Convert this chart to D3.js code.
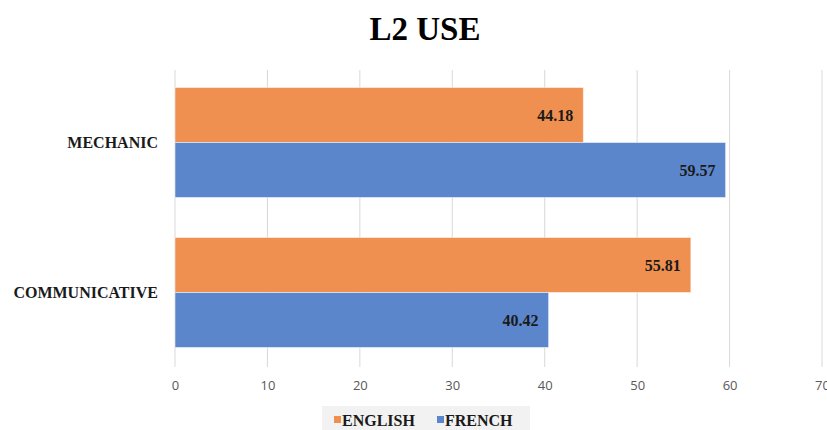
<!DOCTYPE html>
<html>
<head>
<meta charset="utf-8">
<script src="https://cdn.jsdelivr.net/npm/d3@7"></script>
<style>
  body { margin: 0; background: #fff; }
</style>
</head>
<body>
<div id="chart"></div>
<script>
var categories = ["MECHANIC", "COMMUNICATIVE"];
var seriesNames = ["ENGLISH", "FRENCH"];
var english = [44.18, 55.81];
var french = [59.57, 40.42];
var xTicks = [0, 10, 20, 30, 40, 50, 60, 70];

var colors = { ENGLISH: "#ef8f50", FRENCH: "#5c86cc" };

var width = 827, height = 430;
var svg = d3.select("#chart").append("svg")
  .attr("width", width)
  .attr("height", height);

var rows = categories.map(function(c, i) {
  return { cat: c, values: [
    { key: "ENGLISH", v: english[i] },
    { key: "FRENCH", v: french[i] }
  ]};
});

var x = d3.scaleLinear().domain([0, 70]).range([175, 822]);
var y = d3.scaleBand().domain(categories).range([70, 365])
  .paddingInner(0.2667).paddingOuter(0.1167);
var y1 = d3.scaleBand().domain(seriesNames).range([0, y.bandwidth()]);

// title
svg.append("text")
  .attr("x", 425).attr("y", 40)
  .attr("text-anchor", "middle")
  .style("font-family", "'Liberation Serif', 'Times New Roman', serif")
  .style("font-weight", "bold")
  .style("font-size", "33px")
  .text("L2 USE");

// gridlines
svg.append("g").selectAll("line")
  .data(xTicks)
  .enter().append("line")
  .attr("x1", function(d) { return x(d); })
  .attr("x2", function(d) { return x(d); })
  .attr("y1", 70).attr("y2", 367)
  .attr("stroke", "#d9d9d9")
  .attr("stroke-width", 1);

// bars
var groups = svg.append("g").selectAll("g")
  .data(rows)
  .enter().append("g")
  .attr("transform", function(d) { return "translate(0," + y(d.cat) + ")"; });

groups.selectAll("rect")
  .data(function(d) { return d.values; })
  .enter().append("rect")
  .attr("x", x(0))
  .attr("y", function(d) { return y1(d.key); })
  .attr("width", function(d) { return x(d.v) - x(0); })
  .attr("height", y1.bandwidth())
  .attr("fill", function(d) { return colors[d.key]; })
  .attr("stroke", "#ffffff")
  .attr("stroke-opacity", 0.5)
  .attr("stroke-width", 1);

groups.selectAll("text")
  .data(function(d) { return d.values; })
  .enter().append("text")
  .attr("x", function(d) { return x(d.v) - 10; })
  .attr("y", function(d) { return y1(d.key) + y1.bandwidth() / 2; })
  .attr("dy", "0.35em")
  .attr("text-anchor", "end")
  .style("font-family", "'Liberation Serif', 'Times New Roman', serif")
  .style("font-weight", "bold")
  .style("font-size", "16px")
  .style("fill", "#1a1a1a")
  .text(function(d) { return d3.format(".2f")(d.v); });

// category labels
svg.append("g").selectAll("text")
  .data(categories)
  .enter().append("text")
  .attr("x", 158)
  .attr("y", function(d) { return y(d) + y.bandwidth() / 2; })
  .attr("dy", "0.35em")
  .attr("text-anchor", "end")
  .style("font-family", "'Liberation Serif', 'Times New Roman', serif")
  .style("font-weight", "bold")
  .style("font-size", "16px")
  .style("fill", "#1a1a1a")
  .text(function(d) { return d; });

// x axis labels
var xAxis = d3.axisBottom(x).tickValues(xTicks).tickSize(0).tickPadding(0);
var ax = svg.append("g")
  .attr("transform", "translate(0,381)")
  .call(xAxis);
ax.select(".domain").remove();
ax.selectAll("text")
  .style("font-family", "'Open Sans', 'Liberation Sans', sans-serif")
  .style("font-size", "13px")
  .style("fill", "#595959");

// legend
var legend = svg.append("g");
legend.append("rect")
  .attr("x", 322).attr("y", 406)
  .attr("width", 208).attr("height", 24)
  .attr("fill", "#f2f2f2");
var legendX = { ENGLISH: 334, FRENCH: 437 };
var li = legend.selectAll("g.item")
  .data(seriesNames)
  .enter().append("g")
  .attr("class", "item")
  .attr("transform", function(d) { return "translate(" + legendX[d] + ",0)"; });
li.append("rect")
  .attr("x", 0).attr("y", 416)
  .attr("width", 7).attr("height", 7)
  .attr("fill", function(d) { return colors[d]; });
li.append("text")
  .attr("x", 8).attr("y", 420)
  .attr("dy", "0.35em")
  .style("font-family", "'Liberation Serif', 'Times New Roman', serif")
  .style("font-weight", "bold")
  .style("font-size", "16px")
  .style("fill", "#1a1a1a")
  .text(function(d) { return d; });
</script>
</body>
</html>
